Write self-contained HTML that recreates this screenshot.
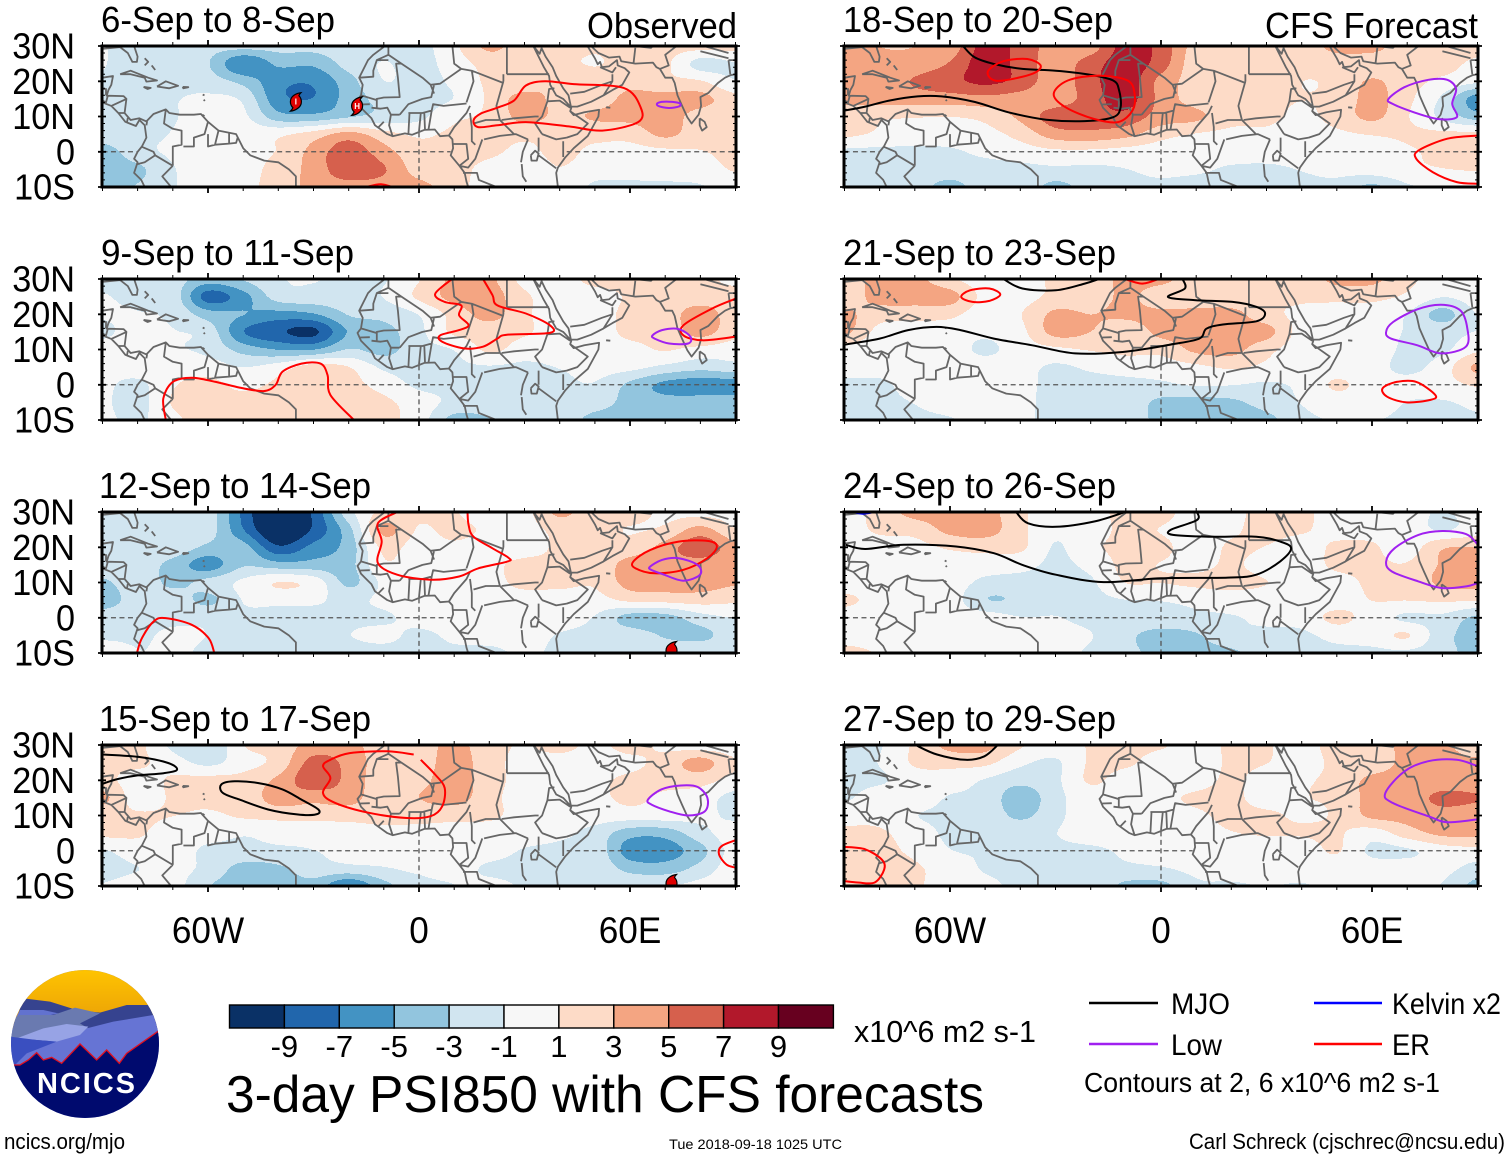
<!DOCTYPE html>
<html lang="en">
<head>
<meta charset="utf-8">
<title>3-day PSI850 with CFS forecasts</title>
<style>
html,body{margin:0;padding:0;background:#fff;}
svg{display:block;font-family:"Liberation Sans",sans-serif;}
text{fill:#000;}
</style>
</head>
<body>
<svg id="chart" xmlns="http://www.w3.org/2000/svg" width="1510" height="1159" viewBox="0 0 1510 1159">
<rect width="1510" height="1159" fill="#fff"/>
<g font-size="36">
<text x="101" y="32" textLength="234" lengthAdjust="spacingAndGlyphs">6-Sep to 8-Sep</text>
<text x="101" y="265" textLength="253" lengthAdjust="spacingAndGlyphs">9-Sep to 11-Sep</text>
<text x="99" y="498" textLength="272" lengthAdjust="spacingAndGlyphs">12-Sep to 14-Sep</text>
<text x="99" y="731" textLength="272" lengthAdjust="spacingAndGlyphs">15-Sep to 17-Sep</text>
<text x="843" y="32" textLength="270" lengthAdjust="spacingAndGlyphs">18-Sep to 20-Sep</text>
<text x="843" y="265" textLength="273" lengthAdjust="spacingAndGlyphs">21-Sep to 23-Sep</text>
<text x="843" y="498" textLength="273" lengthAdjust="spacingAndGlyphs">24-Sep to 26-Sep</text>
<text x="843" y="731" textLength="273" lengthAdjust="spacingAndGlyphs">27-Sep to 29-Sep</text>
<text x="587" y="38" textLength="150" lengthAdjust="spacingAndGlyphs">Observed</text>
<text x="1265" y="38" textLength="213" lengthAdjust="spacingAndGlyphs">CFS Forecast</text>
</g>
<g id="panels"></g>
<g id="colorbar"></g>
<text x="854" y="1042" font-size="31" textLength="182" lengthAdjust="spacingAndGlyphs">x10^6 m2 s-1</text>
<text x="226" y="1112" font-size="52" textLength="758" lengthAdjust="spacingAndGlyphs">3-day PSI850 with CFS forecasts</text>
<text x="669" y="1149" font-size="14" textLength="173" lengthAdjust="spacingAndGlyphs">Tue 2018-09-18 1025 UTC</text>
<text x="4" y="1149" font-size="22" textLength="121" lengthAdjust="spacingAndGlyphs">ncics.org/mjo</text>
<text x="1189" y="1149" font-size="22" textLength="316" lengthAdjust="spacingAndGlyphs">Carl Schreck (cjschrec@ncsu.edu)</text>
<g>
<line x1="1089" y1="1003" x2="1158" y2="1003" stroke="#000" stroke-width="2.4"/>
<text x="1171" y="1014" font-size="30" textLength="59" lengthAdjust="spacingAndGlyphs">MJO</text>
<line x1="1314" y1="1003" x2="1382" y2="1003" stroke="#0000ff" stroke-width="2.4"/>
<text x="1392" y="1014" font-size="30" textLength="109" lengthAdjust="spacingAndGlyphs">Kelvin x2</text>
<line x1="1089" y1="1044" x2="1158" y2="1044" stroke="#a020f0" stroke-width="2.4"/>
<text x="1171" y="1055" font-size="30" textLength="51" lengthAdjust="spacingAndGlyphs">Low</text>
<line x1="1314" y1="1044" x2="1382" y2="1044" stroke="#ff0000" stroke-width="2.4"/>
<text x="1392" y="1055" font-size="30" textLength="38" lengthAdjust="spacingAndGlyphs">ER</text>
<text x="1084" y="1092" font-size="28" textLength="356" lengthAdjust="spacingAndGlyphs">Contours at 2, 6 x10^6 m2 s-1</text>
</g>
<g>
<defs>
<clipPath id="logo-clip"><circle cx="85" cy="1044" r="74"/></clipPath>
<linearGradient id="sun" x1="0" y1="0" x2="0" y2="1"><stop offset="0" stop-color="#ffc400"/><stop offset="1" stop-color="#e89c08"/></linearGradient>
</defs>
<g clip-path="url(#logo-clip)">
<rect x="10" y="969" width="150" height="150" fill="#6674d4"/>
<rect x="10" y="969" width="150" height="60" fill="url(#sun)"/>
<g transform="translate(0,960) scale(0.3333)">
<path fill="#36438f" d="M30 240L70 115L150 125L230 150L300 158L380 135L450 135L490 200V260H30Z"/>
<path fill="#6272cf" d="M60 150L130 150L175 160L120 172L50 170Z"/>
<path fill="#6a7ab0" d="M30 180L60 165L160 165L225 143L300 160L240 190L265 205L60 240L30 240Z"/>
<path fill="#6674d4" d="M460 165L490 215L400 270L45 320L60 285L150 245L260 205L340 185Z"/>
<path fill="#97a3e5" d="M50 235L130 205L200 192L265 200L240 225L170 245L110 240Z"/>
<path fill="#3a4fc0" d="M30 230L110 240L170 245L80 280L45 315L30 300Z"/>
<path fill="#000a6e" stroke="#e01020" stroke-width="4" d="M40 315L60 315L85 300L110 278L130 300L155 292L185 310L240 252L290 300L320 270L358 310L380 280L480 210L490 480L30 480Z"/>
</g>
</g>
<text x="37" y="1093" font-size="29" font-weight="bold" style="fill:#fff" textLength="98" lengthAdjust="spacing">NCICS</text>
</g>
</svg>
<script>
// ---- Axis domain values ----
const gridLons = [-90,-80,-70,-60,-50,-40,-30,-20,-10,0,10,20,30,40,50,60,70,80,90];
const gridLats = [30,25,20,15,10,5,0,-5,-10];
const levels = [-9,-7,-5,-3,-1,1,3,5,7,9];
const bandColors = ['#0a3166','#2166ac','#4393c3','#92c5de','#d1e5f0','#f7f7f7','#fddbc7','#f4a582','#d6604d','#b2182b','#67001f'];
const yTickLabels = ['30N','20N','10N','0','10S'];
const yTickLats = [30,20,10,0,-10];
const xTickLabels = ['60W','0','60E'];
const xTickLons = [-60,0,60];

// ---- PSI850 anomaly grids (rows = gridLats, columns = gridLons) ----
const psiSep06 = [
[-0.8,-1.5,-1.5,-2,-2,-2,-2,-1.5,-1.5,-1.5,0.5,3,1.5,1.5,1,1.5,1.5,1.5,1.5],
[-0.8,-1.6,-1.6,-2.5,-6,-4,-4,-1.9,-0.8,-1.5,0,1.5,1.5,1.2,0.8,1.3,1.2,-1.5,-1],
[-1,-1.5,-1.5,-1.8,-3.2,-5.5,-5.8,-3.3,-0.9,-1.5,-0.5,1.2,1.4,2.5,1.5,2,1.3,1,-0.8],
[-1.2,-1.3,-1,-0.5,-1.2,-5.5,-6,-3.6,-2,-1.5,-0.8,1.2,3.3,2,1.8,3.1,3.3,3.2,1.5],
[-1.4,-1.2,-1,0,-0.5,-3.6,-3.8,-2.8,-2,-1.3,0.5,1.2,3.2,2.2,2.8,3.1,3.5,1.8,1.3],
[-1.5,-1.2,-0.8,0,0.2,0.5,1.6,3.2,1.5,0.6,1.2,1.3,1.3,1.3,1.4,1.5,3,1.5,1.3],
[-3.5,-1.5,-0.6,0,0.3,1,3.2,5.4,3.3,1.4,1.5,1.2,0.5,1.3,0.5,0.3,0.5,0.8,1.2],
[-3.5,-3,-1,0,0.3,1.5,3.3,5.5,4.5,1.8,1.5,0.3,0,0.8,0,0,0,0.2,1],
[-3.5,-2.5,-1,0,0.5,1.5,3.2,3.7,3.6,3.2,1.5,0.2,0,0.5,-1.2,-1.3,-1.2,-1,0]];
const psiSep09 = [
[-1.2,-1.5,-1.8,-3.5,-2.5,-1,-0.8,-1.2,-1,0.8,3,3,0.3,0,1.5,1.4,1,1.2,0.5],
[-0.8,-1.2,-1.6,-6.8,-5,-1.8,-1.5,-1.5,-0.8,1.2,3.2,3.5,1.2,0,0,1.1,1.4,1.5,1.5],
[-0.8,-0.8,-1.2,-3.5,-4.3,-5,-4.5,-2.5,-2,-0.8,1.5,3.2,1.2,0,0,1.4,1.6,3.6,1.5],
[-1,-0.6,-0.8,-1.6,-6,-7.5,-8.2,-4.2,-3.3,-1.3,1.2,1.6,1.1,0,0,1.3,1.3,3.3,1.3],
[-0.6,-0.5,-0.7,-1.3,-3.3,-4.4,-4.4,-2.5,-3.2,-1.5,-0.8,1.2,0,0,0,0.3,1,0.3,0],
[-0.4,0,0,0,-0.9,0,1.6,0.9,-1.2,-1.5,-1.2,-1,-1.2,-0.8,-0.3,-0.4,-1.3,-2,-1.5],
[-0.5,-1.3,0.7,1.4,0.4,1.2,1.5,1.4,0.2,-1.2,-1.2,-1.2,-1.5,-1.3,-1,-3,-4.8,-5.3,-5.2],
[-0.6,-1.5,1,1.5,1.5,1.6,1.6,1.6,1.2,0,-1.3,-1.3,-1.5,-1.5,-1.8,-3.2,-3.6,-3.5,-3.5],
[-0.5,-1.2,0.5,1.5,1.5,1.6,1.6,1.6,1.3,0,-3.2,-2.8,-1.5,-1.5,-3.2,-3.2,-2.8,-3,-3.5]];
const psiSep12 = [
[-1,-2.5,-2.5,-1.8,-6.5,-11,-7.5,-1.5,1.3,1.2,1,-0.5,0.3,3,1.3,1.5,0.5,0.3,0.2],
[-1.4,-1.8,-1.6,-1.8,-6,-10,-7.5,-3.2,3,0.7,1.4,0.5,0.2,1.4,1.4,0.8,1.2,3.2,1],
[-1.5,-1.5,-1.5,-3,-3.6,-7.5,-5.5,-3.6,1.3,0,0.5,0,0,1.2,1.3,1.5,3.3,5.6,3.2],
[-1,-1.6,-3.2,-5.2,-2.8,-3.6,-3.6,-3.2,0.6,-0.2,0,0.4,1.4,1.2,1.2,3.4,3.6,3.4,3],
[-3,-1.5,-3,-2,-0.5,0.9,0.2,-3,-0.5,0,0,0.2,1.4,1.3,1.1,3.3,3.5,3.4,2.8],
[-3.5,-1.8,-1.6,-3,-0.8,-0.5,-0.6,-1.3,-0.5,0,0,0,0,0,0.2,1.2,1.4,1.6,1.2],
[-1.7,-1.4,-1.2,-1.2,-1.2,-1.4,-1.4,-1.2,-1.1,-0.3,0,0,0,0,-1,-3.3,-3.3,-1.6,-0.8],
[-1.4,-1.2,-0.6,-0.9,-1.3,-1.4,-1.3,-0.9,-0.5,-1.2,-0.5,0,0,-1,-1.4,-1.6,-2.8,-3.1,-1.6],
[0.8,-0.8,-0.5,-1.2,-1.4,-1.4,-1.4,-1.4,-1.4,-1.4,-1.2,-1.4,-0.5,-1.3,-1.5,-1.5,-1.4,-1,-1.3]];
const psiSep15 = [
[1.4,1.3,-1.3,-2.6,0.8,1.5,3.3,3.3,1.5,1.6,3.2,1.4,0.8,1.4,0.5,1.4,0.5,0,0],
[1.3,1.2,0,-1.3,0.2,1.5,5,3.8,1.6,1.5,3.6,1.4,0.5,0.2,0.2,0.5,1.5,3.3,1],
[1.4,0.2,1.1,1.4,1.5,3,5.5,3.8,1.5,2,3.6,1.5,0.4,0.1,0.5,1.2,1.4,1.5,0.3],
[3.1,0,1.1,1.3,1.5,3.4,3.2,3.3,1.5,2.6,3.4,1.4,0.2,0,0.4,1.2,0.5,0,-1.5],
[1.3,1.1,0.9,0.6,1.1,1.4,1.4,1.5,1.4,1.4,1.3,1.2,0.2,0,0,0,0,-0.4,-1.2],
[1.3,1.1,0,-0.2,-0.7,-0.3,-0.2,0,0.4,0.4,0.4,0,0,-0.5,-1.5,-3.6,-3.6,-1.5,0],
[-1,0,0,-1.2,-1.3,-1.2,-0.9,-0.3,-0.1,0,0,-0.2,-1,-1.3,-1.4,-5.2,-5.2,-3.2,0],
[-1.4,-0.9,-0.3,-1.4,-3.2,-2.9,-1.6,-1.4,-1,-0.5,-0.3,-1.1,-1.3,-1.3,-1.3,-3.2,-3.5,-2,0.2],
[-0.8,-0.2,-0.2,-2.5,-3.5,-3.6,-3.3,-6,-3.2,-1.5,-0.9,-0.5,-1,-1,-1.2,-1.2,-1,-0.3,0.5]];
const psiSep18 = [
[3.5,2.6,2.6,3.3,6.8,5.5,3.5,3.5,6.8,5.5,1.8,1.4,1.4,1.4,3.3,3.3,1.5,1.4,1.4],
[3.2,3.2,3.3,4.5,7,5.5,3.5,5.2,7,5.2,1.5,1.4,1.4,1.4,1.4,1.5,1.6,1.5,0.5],
[3.2,3.4,4.5,5.5,6.5,5.5,3.4,5.5,7,3.8,1.8,1.5,2.5,0.9,1.3,2.8,1.5,0.5,-0.5],
[3.1,3.2,3.4,3.5,3.8,3.5,3.3,5.2,6.8,3.8,1.8,1.3,1.4,0.9,1.3,3.2,1.3,-1.2,-5.3],
[1.5,1.1,1,0.9,1.4,3,5.2,5.4,5.5,3.6,3,1.4,1.3,0.5,1.5,3,1,-1.3,-3.5],
[1.2,0.6,0,0,0.3,1.5,3.5,3.8,3.2,1.5,0.8,0.5,0.5,0,0.5,1,1.2,1.2,1.3],
[-1.2,-1.3,-1.2,-1.1,-0.5,0,0.5,0.5,0.2,0,0,0,0,0,-0.5,-0.5,0.6,1.2,1.3],
[-1.4,-1.5,-1.6,-1.6,-1.5,-1.3,-1.2,-1.2,-0.9,-0.5,-0.6,-1.1,-1.2,-0.8,-0.5,0,0.5,0.8,1],
[-1.4,-1.5,-1.8,-3.2,-1.6,-1.5,-3.1,-1.8,-1.3,-1.2,-1.5,-1.3,-1.2,-1.2,-1.3,-3,-1.1,-0.8,-0.6]];
const psiSep21 = [
[1.5,3.3,3.2,1.2,0,0,1.2,1.4,3.2,3.2,1.4,1.3,1.3,1.2,3.2,3.1,1.3,0.3,0.8],
[1.5,3.3,3.4,3.3,0.3,0.2,1.3,1.4,3,1.4,1.3,1.3,1.2,1.1,1.2,1.3,0.6,-0.8,0],
[3,1.7,1.6,1.3,0,0.8,3,2.6,3,3.1,3.2,3.2,1.5,0.5,0.5,0.2,-0.9,-3.2,-0.8],
[3,0.3,0,0,-0.5,0.4,3.2,2.6,1.5,3.1,3.3,3.2,3.2,0.2,0,0,-1,-1.5,-0.8],
[0,0,0,0,-1.2,0,0.5,1,1.3,1.4,3,3.2,1.4,0,0,0,-1.2,-1.2,0.5],
[0,0,0,0,0,-0.3,-1.1,-0.6,-0.2,0,0.5,1.1,0.5,0,0,-0.2,-1.3,0,3],
[-1.3,-1.3,0,0,0,-0.5,-1.2,-1.3,-1.3,-1.2,-0.7,-0.8,-1.1,-0.5,1.1,0,-0.3,0.2,1.1],
[-1.4,-1.3,-0.8,0,0,-0.5,-1.3,-1.4,-1.6,-3,-3.2,-3,-1.8,-0.8,0,-0.2,-0.9,-1,-0.5],
[-1.4,-0.9,-1.2,-1,0,-0.6,-1.2,-1.3,-1.6,-3.1,-3.4,-4,-3.2,-1.3,-0.8,-0.8,-1.1,-1.1,-1]];
const psiSep24 = [
[0,1.6,3.2,3.3,3.4,1.2,0,0,1.6,1.5,0,0.5,1.3,1.3,0,0.5,0,-1.1,0],
[0,1.2,1.5,3.1,3.4,1.3,-0.5,0,1.3,0.8,0,0.6,1.4,1.1,0.2,0.3,0,-1,0],
[0,0,0.3,1.1,1.4,1.2,-1,0.5,1.3,1.3,0,1.1,0.8,0,1.2,1.1,0,2.4,2.6],
[0,0,0,0,0,-0.3,-1.2,-0.4,1.3,0.8,0.4,1.1,0.2,0,1.2,1.2,1,2.8,3.3],
[0,0,0,0,-1.3,-1.5,-1.3,-1.1,0.9,0.9,1.2,1.4,0.9,0,0.2,1.2,1.3,3,3.2],
[1.2,0.3,0,0,-2.5,-2.3,-1.4,-1.3,-0.9,-0.8,-0.5,0,0,0,0,0.9,0.9,1.1,1],
[0,0,0,0,0,-0.8,-0.8,-1.3,-1.5,-1.4,-1.2,-1,-0.5,-0.2,1.3,0,-1.2,-1.3,-3],
[0,0,0,0,0,0,-0.3,-0.8,-2.2,-3.2,-2.8,-1.2,-1.2,-1.2,-0.3,0,1,-2,-3.2],
[1.5,0.7,0,0,0,0,-0.4,-1.1,-2.2,-3,-3.2,-3,-1.4,-1.3,-1.3,-1.3,-1.2,-2,-3.3]];
const psiSep27 = [
[-1.2,-1,1.2,3.1,3.2,1.1,0,1,1.3,1.1,0,1.2,1,0.3,1.5,1.5,3.2,3.1,1.2],
[-1.2,-0.8,1.1,1.4,1.3,-0.5,-1.1,1.1,1.2,0,0,1.1,0.9,0.3,1.2,1.4,3.2,3.3,3.1],
[-1.2,-1.1,0,0,-1,-2,-1.2,1.1,0,0,0.3,1.1,0.3,0.7,1.3,3.1,3.3,3.3,3.4],
[-1.1,0,0,-1,-1.3,-3.8,-1.4,0,0,0.5,1.1,1.2,0.3,0.8,1.2,3.2,3.4,4.8,4.5],
[0.2,0.3,-0.8,-1.2,-1.3,-3,-1.3,0,0,0,0.6,1.2,1.1,0.7,1.1,3,3.2,3.6,3.4],
[1.2,1.1,0,-1.2,-1.3,-1.2,-0.9,0,0,0,0.3,0.8,1,1,1.1,0,1.8,3,3.1],
[1.3,1.3,0.5,-0.8,-1,-1.2,-1.2,-1.2,-0.6,-0.2,0,0,0,0,1,-1.2,-1.1,0,0.3],
[1.4,1.4,1.1,0,-1,-1.2,-1.3,-1.2,-1.2,-1,-0.4,0,0,0,0,0,0,-0.3,-1.5],
[1.4,1.3,1.1,0,-0.5,-1.2,-1.3,-1.3,-3,-3.1,-1.2,-1.1,-0.8,-1,-0.4,0,0,-1,-3.2]];
// Display calibration applied when shading the grids above.
const shadeGain = 1.15;

// ---- Wave-filtered contours, as [lon, lat] vertices ----
const contoursSep06 = [
{kind:'er',closed:true,points:[[15.5,8.9],[17.5,10.8],[22.3,12.5],[27,14.5],[30.4,18.8],[35.8,20],[44,19.2],[58.2,18.1],[63,12.6],[62.3,8.4],[52.1,6],[42.6,7.2],[30.4,8.4],[22.3,7.5],[16.8,7]]},
{kind:'er',closed:false,points:[[-15,-10],[-11,-9.2],[-7.5,-10]]},
{kind:'low',closed:true,points:[[68,13.9],[71,14.2],[74,13.8],[74,12.9],[71,12.4],[68,13]]}];
const contoursSep09 = [
{kind:'er',closed:false,points:[[-72,-10],[-72.7,-3.9],[-70,0.8],[-64.6,2],[-57.8,0.8],[-51,-0.8],[-44.2,-1.8],[-40.8,-0.1],[-38.8,3.7],[-33.4,6],[-28,6],[-26,2.7],[-25.2,-2.9],[-18.5,-10]]},
{kind:'er',closed:false,points:[[9.4,30],[4.6,25.8],[7.3,23.5],[12,22.5],[11.4,19.7],[14.1,16.9],[11.4,15.5],[6,14],[6.6,12.2],[12.8,10.3],[18.2,10.8],[22.3,13.1],[25,14.2],[37.2,14.7],[37.2,16.9],[30.4,20.2],[22.3,22.5],[20.9,25.4],[18.2,30]]},
{kind:'er',closed:false,points:[[90,24.4],[83.3,21.6],[75.2,16.9],[75.2,14],[80.6,12.6],[90,13.6]]},
{kind:'low',closed:true,points:[[66.4,14],[69.1,15.5],[73.8,15.8],[77.2,13.6],[76.5,11.7],[71.1,11.7],[67,13.1]]}];
const contoursSep12 = [
{kind:'er',closed:false,points:[[-6.2,30],[-11.7,26.8],[-10.6,21.6],[-11.7,15.5],[-6.2,12.2],[3.3,10.8],[11.4,11.7],[16.8,14],[25,15.9],[25.6,16.9],[20.9,19.7],[15.5,23],[14.1,26.3],[13.8,30]]},
{kind:'er',closed:true,points:[[60.9,15.9],[65.7,19.2],[73.8,21.6],[82,21.8],[84.7,20.2],[82,16.9],[75.2,13.6],[67,12.6],[61.6,14]]},
{kind:'low',closed:true,points:[[65.7,14.5],[69.1,16.4],[73.8,16.9],[79.2,15],[79.9,12.2],[75.2,10.5],[69.7,12.2],[66,13.6]]},
{kind:'er',closed:false,points:[[-80.2,-10],[-78.8,-5.8],[-75.4,-1],[-72,-0.1],[-64.6,-2],[-59.8,-5.8],[-58.2,-10]]}];
const contoursSep15 = [
{kind:'mjo',closed:false,points:[[-90,27.3],[-79.5,26.6],[-71.3,24.9],[-68.8,23],[-72.6,22],[-80.7,21.3],[-86.2,20.2],[-90,19]]},
{kind:'mjo',closed:true,points:[[-56.2,18.8],[-52.4,19.7],[-45.6,19.2],[-38.8,17.4],[-33.4,14.5],[-28.6,11.7],[-29.3,10.3],[-34.7,10.3],[-42.9,11.7],[-51,14.5],[-55.8,16.4]]},
{kind:'er',closed:false,points:[[-1.5,27.3],[-9,28.2],[-19.7,27.7],[-25.2,25.8],[-27.3,24],[-25.2,20.6],[-27.3,16.4],[-23.9,13.6],[-14.4,10.8],[-3.5,9.3],[3.3,9.8],[6.6,12.6],[7.3,17.8],[4.6,21.6],[0.5,25.8]]},
{kind:'low',closed:true,points:[[65.1,14.5],[68.9,17.4],[74.5,18.5],[79.2,18.1],[82,15],[81.3,11.2],[76.5,10],[71.1,11.2],[66.1,13.1]]},
{kind:'er',closed:false,points:[[90,3],[86,1.3],[85.3,-1],[87.4,-3.9],[90,-4.8]]}];
const contoursSep18 = [
{kind:'mjo',closed:false,points:[[-56.3,30],[-53,26.8],[-47.5,24.9],[-39.4,23.5],[-29.9,23],[-20.4,21.9],[-13.6,20.2],[-11.9,17.4],[-11.5,12.6],[-13.6,9.8],[-21.7,8.7],[-32.6,9.1],[-43.4,11.2],[-52.9,14.1],[-62.4,15.7],[-69.2,15.7],[-77.3,14.5],[-84.1,12.8],[-90,11.7]]},
{kind:'er',closed:true,points:[[-49.1,23],[-44.8,25.7],[-38,26.3],[-34.2,24.4],[-36.6,22.1],[-44.8,20.2],[-48.2,20.6]]},
{kind:'er',closed:true,points:[[-30.5,16.4],[-26.5,20.2],[-17.6,21.6],[-9.5,20.2],[-7.5,16.4],[-8.1,11.7],[-12.2,8.4],[-19,9.3],[-27.1,12.6]]},
{kind:'low',closed:true,points:[[64.7,15],[69.2,18.3],[76,20.4],[81.4,20.4],[83.9,17.8],[82.8,13.6],[84.1,9.8],[78.7,9.3],[71.9,11.2],[65.8,13.6]]},
{kind:'er',closed:false,points:[[90,4.6],[81.4,3.7],[73.3,0.4],[72.6,-2],[77.3,-5.8],[84.1,-8.6],[90,-9.1]]}];
const contoursSep21 = [
{kind:'mjo',closed:false,points:[[-44.8,30],[-39.4,27.3],[-29.9,26.8],[-21.7,28.7],[-17.6,30]]},
{kind:'mjo',closed:false,points:[[6.1,30],[6.8,27.3],[2,24.9],[9.5,24],[20.4,23.5],[27.1,22.1],[29.6,20.2],[27.1,18],[17.6,17.1],[12.9,15.9],[10.9,13.1],[2.7,11.4],[-10.9,9.3],[-24.4,8.9],[-36.6,11.2],[-47.5,13.1],[-57,15.5],[-63.8,16.4],[-71.9,15.5],[-80,13.1],[-90,11.4]]},
{kind:'er',closed:true,points:[[-56.8,24.9],[-54.3,26.8],[-48.8,27.3],[-45.7,25.6],[-48.8,23.8],[-53.6,23.5]]},
{kind:'er',closed:false,points:[[-10.2,30],[-5.4,28.7],[-0.7,30]]},
{kind:'er',closed:true,points:[[63,-1],[67,0.8],[72.6,0.8],[78,-2.9],[76.6,-4.3],[69.8,-5],[64.3,-3.4]]},
{kind:'low',closed:true,points:[[64,15],[66,17.8],[72.9,21.4],[79.6,22.7],[85.1,21.1],[87.1,16],[86.7,10.8],[79.6,8.9],[72.9,11.2],[65.4,13.1]]}];
const contoursSep24 = [
{kind:'mjo',closed:false,points:[[-41.2,30],[-37.8,26.8],[-29.9,25.8],[-19,27.3],[-10.2,30]]},
{kind:'mjo',closed:false,points:[[10.2,30],[10.2,27.7],[2.7,24.9],[3.4,23.5],[13.6,23],[27.1,23],[33.9,21.6],[37,19.7],[33.9,16],[27.1,12.2],[19,11.4],[0,11.2],[-16.3,10.1],[-29.9,12.2],[-39.4,15],[-47.5,18.3],[-58.3,20.2],[-73.2,20.7],[-84.1,19.5],[-89.6,20.7]]},
{kind:'low',closed:false,points:[[90,20.8],[86.8,23.7],[80,24.6],[73.2,23.5],[66.4,19.7],[64,15.9],[65.7,13.1],[73.2,10.3],[80,8.4],[86.8,8.9],[90,9.8]]},
{kind:'kelvin',closed:false,points:[[-87.6,30],[-84.8,29.5],[-81.4,30]]}];
const contoursSep27 = [
{kind:'mjo',closed:false,points:[[-69.8,30],[-63.7,27.3],[-55.6,25.8],[-50.2,26.8],[-46.4,30]]},
{kind:'er',closed:false,points:[[-90,1.1],[-84.1,0.4],[-79.4,-2.5],[-78.7,-5.3],[-81.4,-9],[-86.2,-9],[-90,-8.6]]},
{kind:'low',closed:false,points:[[90,24],[84.1,25.8],[76,25.4],[69.2,22.5],[63.8,16.4],[65.8,13.6],[76,9.8],[81.4,8.1],[90,8.9]]}];

// ---- Tropical cyclone markers, as [lon, lat, label] ----
const stormsSep06 = [[-35,14.2,'I'],[-17.6,13,'H']];
const stormsSep12 = [[71.8,-9.3,'']];
const stormsSep15 = [[71.8,-9.3,'']];

// ---- Coastlines and borders, as [lon, lat] polylines ----
const coastLines = [
[[-90,21],[-87,21.5],[-87.5,19],[-88.3,17.5],[-88.8,15.9],[-84,15.8],[-83.2,15],[-83.7,11],[-82,9],[-79.5,9.5],[-77.5,8.6],[-75.5,10.7],[-72,12],[-71,11],[-68,10.5],[-64,10.5],[-62,10.7],[-60,8.5],[-57,6],[-52,5],[-50,1],[-48,-1],[-44,-2.5],[-40,-3],[-37,-5],[-35,-7],[-35,-10]],
[[-90,14],[-87.5,13],[-85.5,11],[-83.5,8.5],[-80.5,7.3],[-79.5,9],[-78,7.5],[-77.5,4],[-78.8,1.5],[-80,0],[-81,-2],[-80,-3],[-81,-6],[-79,-8],[-78,-10]],
[[-90,29.2],[-85,29.7],[-82.8,28],[-81.5,25.5],[-80.2,25.5],[-80,27],[-81,30]],
[[-85,22],[-82,23],[-77,21],[-74.5,20.2],[-77.5,19.9],[-78,21],[-82,22],[-85,22]],
[[-74.5,18.5],[-72,20],[-68.5,18.7],[-71,18],[-74.5,18.5]],
[[-78.3,18.4],[-76.3,18.1],[-77.2,17.8],[-78.3,18.4]],
[[-67.2,18.4],[-65.6,18.3],[-67,18],[-67.2,18.4]],
[[-78,26.5],[-77,25.5],[-78,24.5]],[[-76,24.5],[-75,23.2]],
[[-61.5,16.2],[-61,16]],[[-61.2,14.8],[-60.9,14.4]],[[-61.6,10.5],[-61,10.1]],
[[-72,12],[-72.5,8],[-70,6.5],[-67.5,6],[-67.5,2],[-70,1.5],[-70,-4]],
[[-60,8.5],[-61,5],[-64,4],[-64,1.5],[-67,1.5]],
[[-57,6],[-58,2]],[[-54,5.5],[-54,2.3]],
[[-60,5],[-60,1.5],[-58,2],[-54,2.3],[-52,2.5],[-51.5,4.2]],
[[-78.8,1.4],[-75.5,0],[-75,-1],[-70,-4]],
[[-80,-3.5],[-78,-3],[-75,-1]],
[[-70,-4],[-73,-7],[-70.5,-10]],
[[-85.5,11],[-83.7,11]],[[-87.5,13],[-83.2,15]],[[-90,14.5],[-89,14],[-88.5,15.8]],[[-89,18],[-89,16]],[[-90,17.8],[-89,17.8]],[[-83,8.5],[-82.8,9.6]],[[-77.5,7.5],[-77.3,8.6]],
[[-9.7,30],[-13,27.5],[-14.5,26],[-17,21],[-16,19],[-16.5,16],[-17.5,14.7],[-16.5,12.5],[-15,11],[-13.5,9.5],[-12.5,7.5],[-9,5],[-7.5,4.4],[-4,5.2],[-2,4.8],[0,5.6],[1.5,6.2],[4.5,6.3],[6,4.4],[8.5,4.6],[9.5,3.5],[9.7,1],[9,-1],[11.5,-4],[13,-6],[13.5,-8.5],[14,-10]],
[[39.5,-10],[39,-6],[39.5,-4.5],[41.5,-1.7],[44,1],[48,4.5],[51,10],[51.2,11.9],[47,11.2],[44,10.4],[43,11.5],[43.3,12.5],[41,15],[39,16],[37.3,19],[37,21.5],[35.5,24],[34,27],[32.5,30]],
[[34.8,29.5],[36,27],[38,24],[39,21.5],[41,18],[42.5,16],[43.2,12.8],[45,12.8],[49,14.2],[52.5,16],[55,17.5],[57.8,19],[59.8,22.5],[58.5,23.7],[56.5,24.5],[56.3,26],[54,24.2],[52,24],[51.5,25.5],[50.8,24.8],[50,26.5],[48.5,29],[47.9,30]],
[[48.9,30],[51,28],[54,26.7],[57,27],[57.5,25.7],[61.5,25],[66.5,25.3],[67.5,24],[68.5,23.5],[70,21],[72,21],[72.7,19.5],[73.5,16],[74.8,13],[76.3,9.8],[77.5,8],[79.5,10.5],[80.2,13],[80,15.5],[82.3,16.7],[85,19.5],[87,21],[88.5,21.7],[90,22]],
[[79.8,9.5],[81.2,8.5],[81.8,7],[80.5,6],[79.8,7.5],[79.8,9.5]],
[[53.2,12.6],[54.4,12.5]],
[[31.8,-1],[33,0.3],[34,-0.5],[33.5,-2.5],[32,-2.5],[31.8,-1]],
[[29.2,-3.5],[29.5,-7],[30.5,-8.5]],
[[-17,21],[-13,21.3],[-13,23],[-12,26],[-8.7,27.5],[-8.7,30]],[[-12,26],[-8.7,26]],
[[-5,25],[-6.5,25],[-6,21],[-5.5,15.5],[-10,15.4],[-12,15],[-12.2,14.7],[-16.5,16]],[[-8.7,27.5],[-5,25],[1,21],[3.3,19],[4.3,16.5]],
[[3.3,19],[6,19.3],[12,23.5]],[[12,23.5],[15,23],[24,19.5]],[[25,30],[25,22]],[[25,22],[37,22]],[[24,20],[24,22]],
[[24,20],[22,13],[23,9]],[[9.5,30],[10,25],[12,23.5]],[[15,23],[15.5,20],[13.5,14]],[[4.3,19],[3.5,15.5],[1,15]],
[[-5.5,10.5],[-3,13.5],[1,15]],[[3.6,11.7],[4,13.5],[7,13],[13.5,13.7]],[[2.7,6.3],[3.6,11.7]],[[-3,11],[1,11],[3.6,11.7]],
[[0,5.8],[0.5,11]],[[1.7,6.2],[1.5,11]],[[-3,5],[-2.7,11]],[[-7.5,4.4],[-8.5,7.5],[-8,10.5],[-5.5,10.5]],[[-11.5,7],[-10,8.5]],
[[-13.5,12.5],[-11,12.2],[-9,12.5],[-8,10.5]],[[-16.8,13.4],[-14,13.5]],[[-12,12.5],[-12,15]],
[[8.5,4.6],[10,7],[13.5,11],[14.5,13]],[[14.5,11],[15,7],[15,3],[16,2]],[[15.5,8],[19,9],[23,9]],[[23,9],[27,5]],
[[18.5,3.5],[23,4.5],[27.5,5],[31,3.5]],[[23.5,9],[27,9.5],[33,10],[34,10]],[[36.5,14.3],[35,10],[33,8],[35,5]],
[[36.5,14.3],[37,17.8],[38.5,18]],[[36.5,14.3],[40,14.5],[43,12.5]],[[43,11.5],[48,8],[45,5],[42,4]],[[35,5],[39,3.5],[42,4]],
[[41,-1.5],[41,3]],[[34,4],[34,0]],[[34,-1],[39,-4.7]],[[11.5,-4],[14,-4.5],[16,-2],[18,3.5]],[[9.8,2.2],[13.5,2.2],[14,-2],[11.5,-4]],
[[12.5,-6],[16.5,-6],[17,-8],[22,-10]],[[31,3.5],[29.5,0],[29,-3]],
[[43,16.5],[47,17],[52,19],[55,20]],[[52.5,16],[55,20],[55,22]],[[51.5,24],[55,22.5],[56,24]],[[34.9,29.5],[34.3,27.8],[32.6,29.9]],
[[61,25],[61.5,29.5]],[[68.5,23.5],[71,24.5],[70,27.5],[73,29.8],[74,30]],[[80,28.5],[88,26.5]],[[81,30],[88,28]],[[88,26],[88.5,22]],[[88,26],[90,26]],[[61,30],[66,29.5],[66.5,30]]
];

// ---- Panel layout ----
const panelDefs = [
{id:'sep-06',grid:psiSep06,contours:contoursSep06,storms:stormsSep06,col:0,row:0},
{id:'sep-09',grid:psiSep09,contours:contoursSep09,storms:[],col:0,row:1},
{id:'sep-12',grid:psiSep12,contours:contoursSep12,storms:stormsSep12,col:0,row:2},
{id:'sep-15',grid:psiSep15,contours:contoursSep15,storms:stormsSep15,col:0,row:3},
{id:'sep-18',grid:psiSep18,contours:contoursSep18,storms:[],col:1,row:0},
{id:'sep-21',grid:psiSep21,contours:contoursSep21,storms:[],col:1,row:1},
{id:'sep-24',grid:psiSep24,contours:contoursSep24,storms:[],col:1,row:2},
{id:'sep-27',grid:psiSep27,contours:contoursSep27,storms:[],col:1,row:3}];
const colCenters = [419,1161];
const rowTops = [46,279,512,745];
const panelHeight = 141;
const pxPerLon = 3.517;
const pxPerLat = panelHeight/40;
const contourStyle = {mjo:'#000000',low:'#a020f0',er:'#ff0000',kelvin:'#0000ff'};

const NS = 'http://www.w3.org/2000/svg';
function make(tag,parent,attrs){
  const e = document.createElementNS(NS,tag);
  for(const k in attrs) e.setAttribute(k,attrs[k]);
  parent.appendChild(e);
  return e;
}
function cubic(a,b,c,d,t){
  return b + 0.5*t*(c-a + t*(2*a-5*b+4*c-d + t*(3*(b-c)+d-a)));
}
function bandIndex(v){
  let i=0;
  while(i<levels.length && v>=levels[i]) i++;
  return i;
}
function fieldRow(grid,lat){
  const f = (gridLats[0]-lat)/(gridLats[0]-gridLats[1]);
  const n = gridLats.length;
  const i = Math.max(0,Math.min(n-2,Math.floor(f)));
  const t = f-i;
  const r0=grid[Math.max(0,i-1)],r1=grid[i],r2=grid[i+1],r3=grid[Math.min(n-1,i+2)];
  return gridLons.map((_,c)=>cubic(r0[c],r1[c],r2[c],r3[c],t));
}
function fieldAt(row,lon){
  const f = (lon-gridLons[0])/(gridLons[1]-gridLons[0]);
  const n = gridLons.length;
  const i = Math.max(0,Math.min(n-2,Math.floor(f)));
  const t = f-i;
  return cubic(row[Math.max(0,i-1)],row[i],row[i+1],row[Math.min(n-1,i+2)],t);
}
function smoothPath(pts,closed){
  const n = pts.length;
  const at = i => closed ? pts[(i+n)%n] : pts[Math.max(0,Math.min(n-1,i))];
  let d = 'M'+pts[0][0].toFixed(1)+' '+pts[0][1].toFixed(1);
  const segs = closed ? n : n-1;
  for(let i=0;i<segs;i++){
    const p0=at(i-1),p1=at(i),p2=at(i+1),p3=at(i+2);
    d += 'C'+(p1[0]+(p2[0]-p0[0])/6).toFixed(1)+' '+(p1[1]+(p2[1]-p0[1])/6).toFixed(1)+' '+
         (p2[0]-(p3[0]-p1[0])/6).toFixed(1)+' '+(p2[1]-(p3[1]-p1[1])/6).toFixed(1)+' '+
         p2[0].toFixed(1)+' '+p2[1].toFixed(1);
  }
  return d+(closed?'Z':'');
}

const panelsRoot = document.getElementById('panels');
panelDefs.forEach(function(p){
  const cx = colCenters[p.col], top = rowTops[p.row];
  const xOf = lon => cx + lon*pxPerLon;
  const yOf = lat => top + (30-lat)*pxPerLat;
  const x0 = Math.round(xOf(-90)), x1 = Math.round(xOf(90));
  const y0 = top, y1 = top+panelHeight;
  const g = make('g',panelsRoot,{});
  
  
  const defs = make('defs',g,{});
  const cp = make('clipPath',defs,{id:'clip-'+p.id});
  make('rect',cp,{x:x0,y:y0,width:x1-x0,height:y1-y0});
  const clipped = make('g',g,{'clip-path':'url(#clip-'+p.id+')'});
  const bg = make('rect',clipped,{x:x0,y:y0,width:x1-x0,height:y1-y0,fill:bandColors[5]});
  
  

  // shaded anomaly bands
  const ds = bandColors.map(()=> '');
  for(let py=y0;py<y1;py++){
    const row = fieldRow(p.grid,30-(py+0.5-top)/pxPerLat);
    let start=x0, cur=-1;
    for(let px=x0;px<=x1;px++){
      const b = px<x1 ? bandIndex(shadeGain*fieldAt(row,(px+0.5-cx)/pxPerLon)) : -2;
      if(b!==cur){
        if(cur>=0 && cur!==5) ds[cur]+='M'+start+' '+py+'h'+(px-start)+'v1h'+(start-px)+'z';
        start=px; cur=b;
      }
    }
  }
  ds.forEach(function(d,i){
    if(!d) return;
    const band = make('path',clipped,{d:d,fill:bandColors[i],'shape-rendering':'crispEdges'});
    
    
  });

  // zero lines
  [[-90,-80],[-50,9],[42,90]].forEach(function(seg){
    const z = make('line',clipped,{x1:xOf(seg[0]),x2:xOf(seg[1]),y1:yOf(0),y2:yOf(0),stroke:'#555','stroke-width':1.3,'stroke-dasharray':'5 3.5'});
    
    
  });
  const pm = make('line',clipped,{x1:xOf(0),x2:xOf(0),y1:yOf(5.5),y2:yOf(-10),stroke:'#555','stroke-width':1.3,'stroke-dasharray':'5 3.5'});
  
  

  // coastlines
  let cd='';
  coastLines.forEach(function(line){
    line.forEach(function(q,i){ cd += (i?'L':'M')+xOf(q[0]).toFixed(1)+' '+yOf(q[1]).toFixed(1); });
  });
  const coast = make('path',clipped,{d:cd,fill:'none',stroke:'#666','stroke-width':1.8,'stroke-linejoin':'round'});
  
  

  // wave contours
  p.contours.forEach(function(c){
    const pts = c.points.map(q=>[xOf(q[0]),yOf(q[1])]);
    const line = make('path',clipped,{d:smoothPath(pts,c.closed),fill:'none',stroke:contourStyle[c.kind],'stroke-width':2});
    
    
  });

  // storm markers
  p.storms.forEach(function(s){
    const sx=xOf(s[0]), sy=yOf(s[1]);
    const m = make('g',clipped,{transform:'translate('+sx.toFixed(1)+' '+sy.toFixed(1)+')'});
    
    
    make('path',m,{d:'M5 -9C1 -8.5 -5.5 -6 -5.5 0C-5.5 3 -4 5 -3 6C-3.5 7.5 -4.5 8.5 -5.5 9.5C-1 9 5.5 6 5.5 0C5.5 -3 4 -5 3 -6C3.5 -7.5 4.5 -8.5 5 -9Z',fill:'#e00000',stroke:'#000','stroke-width':1.2});
    if(s[2]){
      const t = make('text',m,{x:0,y:3,'font-size':8,'font-weight':'bold','text-anchor':'middle',style:'fill:#fff'});
      t.textContent = s[2];
    }
  });

  // ticks
  let minor='', major='';
  for(let lon=-90;lon<=90;lon+=10){
    const x=xOf(lon).toFixed(1);
    if(lon%60===0) major+='M'+x+' '+(y0-6)+'V'+y0+'M'+x+' '+y1+'V'+(y1+6);
    else minor+='M'+x+' '+(y0-4)+'V'+y0+'M'+x+' '+y1+'V'+(y1+4);
  }
  for(let lat=-10;lat<=30;lat+=2){
    const y=yOf(lat).toFixed(1);
    if(lat%10===0) major+='M'+(x0-4)+' '+y+'H'+(x0+4)+'M'+(x1-4)+' '+y+'H'+(x1+4);
    else minor+='M'+x0+' '+y+'H'+(x0+3)+'M'+x1+' '+y+'H'+(x1-3);
  }
  const mn = make('path',g,{d:minor,stroke:'#000','stroke-width':1,fill:'none'});
  
  
  const mj = make('path',g,{d:major,stroke:'#000','stroke-width':1.8,fill:'none'});
  
  
  const frame = make('rect',g,{x:x0,y:y0,width:x1-x0,height:y1-y0,fill:'none',stroke:'#000','stroke-width':3});
  
  

  if(p.col===0){
    yTickLabels.forEach(function(label,i){
      const t = make('text',g,{x:0,y:0,'font-size':36,'text-anchor':'end',transform:'translate(75 '+(yOf(yTickLats[i])+12.5).toFixed(1)+') scale(0.95 1)'});
      
      
      t.textContent = label;
    });
  }
  if(p.row===3){
    xTickLabels.forEach(function(label,i){
      const t = make('text',g,{x:0,y:0,'font-size':37,'text-anchor':'middle',transform:'translate('+xOf(xTickLons[i]).toFixed(1)+' 943) scale(0.95 1)'});
      
      
      t.textContent = label;
    });
  }
});

// colorbar
const cbRoot = document.getElementById('colorbar');
const cbX = 229.5, cbW = 54.9;
bandColors.forEach(function(color,i){
  const box = make('rect',cbRoot,{x:cbX+i*cbW,y:1005,width:cbW,height:23,fill:color,stroke:'#000','stroke-width':1.4});
  
  
});
levels.forEach(function(level,i){
  const t = make('text',cbRoot,{x:cbX+(i+1)*cbW,y:1057,'font-size':31,'text-anchor':'middle'});
  
  
  t.textContent = String(level);
});
</script>
</body>
</html>
